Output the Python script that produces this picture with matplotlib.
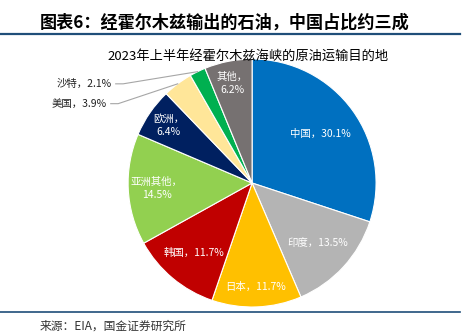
import matplotlib
matplotlib.use("Agg")
import matplotlib.pyplot as plt
from matplotlib.lines import Line2D
import numpy as np

plt.rcParams['font.family'] = ['Noto Sans CJK SC', 'DejaVu Sans']

# destinations of crude shipped through Hormuz, H1 2023 (%)
regions = ['中国', '印度', '日本', '韩国', '亚洲其他', '欧洲', '美国', '沙特', '其他']
shares = [30.1, 13.5, 11.7, 11.7, 14.5, 6.4, 3.9, 2.1, 6.2]
colors = ['#0070C0', '#B4B4B4', '#FFC000', '#C00000', '#92D050',
          '#002060', '#FFE699', '#00B050', '#767171']

# inside label radius per slice (None -> label goes outside with a leader line)
label_r = [0.68, 0.72, 0.84, 0.73, 0.77, 0.82, None, None, 0.82]
two_line = {'亚洲其他', '欧洲', '其他'}
outside_pos = {'沙特': (-1.13, 0.80), '美国': (-1.17, 0.64)}

fig = plt.figure(figsize=(4.69, 3.36), dpi=100)
ax = fig.add_axes([0.273, 0.0863, 0.529, 0.738])
wedges, _ = ax.pie(shares, colors=colors, startangle=90, counterclock=False,
                   wedgeprops=dict(edgecolor='white', linewidth=0.8))
for w in wedges:
    w.set_clip_on(False)
ax.set_xlim(-1, 1)
ax.set_ylim(-1, 1)
ax.set_aspect('equal')
ax.axis('off')

for w, name, v, r in zip(wedges, regions, shares, label_r):
    mid = np.deg2rad((w.theta1 + w.theta2) / 2)
    if r is not None:
        sep = '，\n' if name in two_line else '，'
        ax.text(r * np.cos(mid), r * np.sin(mid), f'{name}{sep}{v}%',
                ha='center', va='center', color='white', fontsize=7.5,
                linespacing=1.4)
    else:
        tx, ty = outside_pos[name]
        ax.text(tx, ty, f'{name}，{v}%', ha='right', va='center',
                color='#222222', fontsize=7.5)
        ex, ey = np.cos(mid), np.sin(mid)
        ax.plot([tx + 0.03, tx + 0.09, ex], [ty, ty, ey], color='#A6A6A6',
                lw=0.8, clip_on=False)

# header, subtitle, footer
fig.add_artist(Line2D([0, 460 / 469], [1 - 34 / 336] * 2, color='#1F4E79', lw=1.6))
fig.text(40 / 469, 1 - 23 / 336, '图表6：经霍尔木兹输出的石油，中国占比约三成',
         fontsize=12.3, fontweight='bold', ha='left', va='center')
fig.text(248 / 469, 1 - 56 / 336, '2023年上半年经霍尔木兹海峡的原油运输目的地',
         fontsize=9.5, ha='center', va='center')
fig.add_artist(Line2D([0, 460 / 469], [1 - 312 / 336] * 2, color='#1F4E79', lw=1.2))
fig.text(40 / 469, 1 - 326 / 336, '来源：EIA，国金证券研究所',
         fontsize=8.5, ha='left', va='center', color='#333333')

fig.savefig('out.png', dpi=100)
